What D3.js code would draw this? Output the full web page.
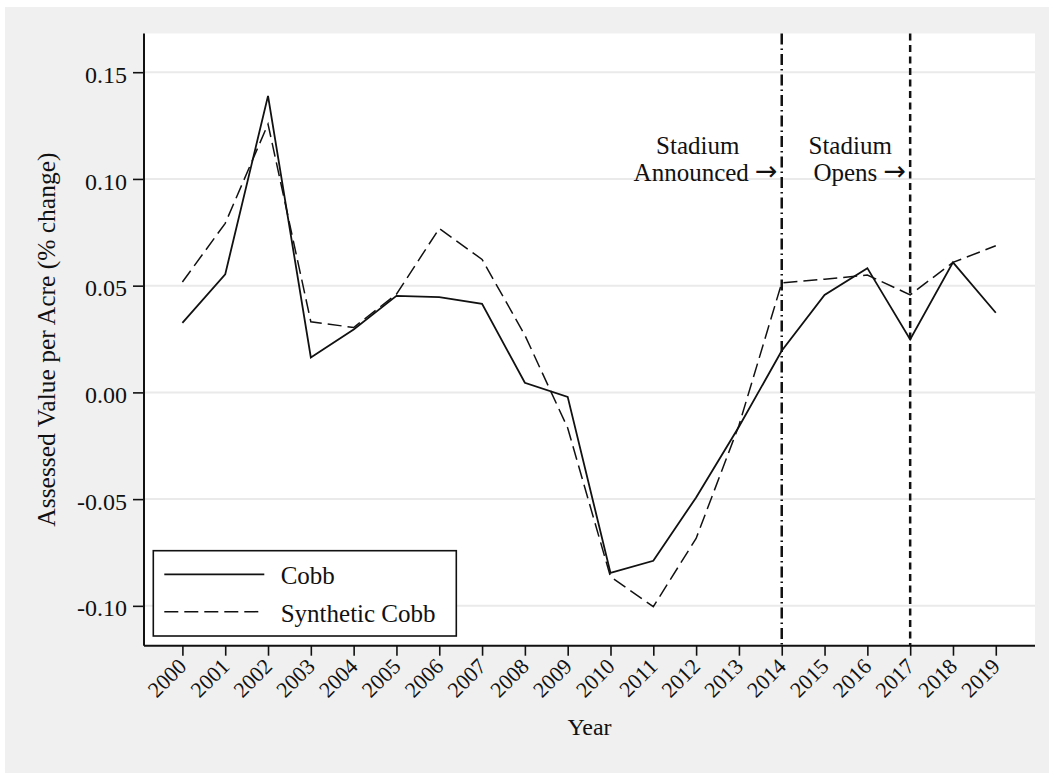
<!DOCTYPE html>
<html>
<head>
<meta charset="utf-8">
<script src="https://cdn.jsdelivr.net/npm/d3@7"></script>
<style>
  html, body { margin: 0; padding: 0; background: #ffffff; }
  svg { display: block; }
  text { font-family: "Liberation Serif", "DejaVu Serif", serif; fill: #111; }
</style>
</head>
<body>
<svg id="chart" width="1049" height="773"></svg>
<script>
// Annual change in assessed value per acre, Cobb County vs. its synthetic control
const years = [2000, 2001, 2002, 2003, 2004, 2005, 2006, 2007, 2008, 2009,
               2010, 2011, 2012, 2013, 2014, 2015, 2016, 2017, 2018, 2019];
const cobb = [0.0326, 0.0553, 0.1389, 0.0164, 0.0295, 0.0452, 0.0446, 0.0415, 0.0045, -0.0021,
              -0.0846, -0.0789, -0.0492, -0.0161, 0.0195, 0.0456, 0.0582, 0.0248, 0.0609, 0.0373];
const syntheticCobb = [0.0517, 0.0792, 0.1257, 0.0331, 0.0304, 0.0460, 0.0768, 0.0623, 0.0268, -0.0167,
                       -0.0864, -0.1004, -0.0684, -0.0155, 0.0513, 0.0530, 0.0550, 0.0457, 0.0609, 0.0687];
const yTicks = [-0.10, -0.05, 0.00, 0.05, 0.10, 0.15];
const yTickLabels = ["-0.10", "-0.05", "0.00", "0.05", "0.10", "0.15"];
const seriesNames = ["Cobb", "Synthetic Cobb"];
const eventYears = [2014, 2017];
const eventLabels = [["Stadium", "Announced"], ["Stadium", "Opens"]];

const svg = d3.select("#chart");
const W = 1049, H = 773;
const plot = { left: 144, right: 1035, top: 33.5, bottom: 645.7 };

const x = d3.scaleLinear().domain([1999.103, 2019.916]).range([plot.left, plot.right]);
const y = d3.scaleLinear().domain([-0.11867, 0.16813]).range([plot.bottom, plot.top]);

// outer panel and plot region
svg.append("rect").attr("x", 5).attr("y", 7).attr("width", W - 5).attr("height", H - 7).attr("fill", "#f0f0f0");
svg.append("rect").attr("x", plot.left).attr("y", plot.top)
  .attr("width", plot.right - plot.left).attr("height", plot.bottom - plot.top).attr("fill", "#ffffff");

// horizontal grid
svg.append("g").selectAll("line").data(yTicks).join("line")
  .attr("x1", plot.left).attr("x2", plot.right)
  .attr("y1", d => y(d)).attr("y2", d => y(d))
  .attr("stroke", "#eaeaea").attr("stroke-width", 2);

// y axis
const yAxis = d3.axisLeft(y).tickValues(yTicks)
  .tickFormat((d, i) => yTickLabels[i]).tickSize(11).tickPadding(6).tickSizeOuter(0);
const gy = svg.append("g").attr("transform", `translate(${plot.left},0)`).call(yAxis);
gy.select(".domain").remove();
gy.selectAll(".tick line").attr("stroke", "#111").attr("stroke-width", 1.6);
gy.selectAll(".tick text").attr("font-size", 24).attr("font-family", "Liberation Serif")
  .attr("fill", "#111").attr("dy", "0.42em");
svg.append("line").attr("x1", plot.left).attr("x2", plot.left)
  .attr("y1", plot.top).attr("y2", plot.bottom).attr("stroke", "#111").attr("stroke-width", 2);

// x axis
const xAxis = d3.axisBottom(x).tickValues(years).tickFormat(d3.format("d"))
  .tickSize(10).tickSizeOuter(0);
const gx = svg.append("g").attr("transform", `translate(0,${plot.bottom})`).call(xAxis);
gx.select(".domain").remove();
gx.selectAll(".tick line").attr("stroke", "#111").attr("stroke-width", 1.6);
gx.selectAll(".tick text")
  .attr("font-size", 22).attr("font-family", "Liberation Serif").attr("fill", "#111")
  .attr("text-anchor", "end").attr("y", 0).attr("dy", 0)
  .attr("transform", "translate(5,22) rotate(-45)");
svg.append("line").attr("x1", plot.left).attr("x2", plot.right)
  .attr("y1", plot.bottom).attr("y2", plot.bottom).attr("stroke", "#111").attr("stroke-width", 2);

// axis titles
svg.append("text").attr("transform", `translate(55,${(plot.top + plot.bottom) / 2}) rotate(-90)`)
  .attr("text-anchor", "middle").attr("font-size", 25.5).text("Assessed Value per Acre (% change)");
svg.append("text").attr("x", (plot.left + plot.right) / 2).attr("y", 735)
  .attr("text-anchor", "middle").attr("font-size", 24).text("Year");

// event markers
const eventDash = ["11,4,1.5,4", "7,4.5"];
svg.append("g").selectAll("line").data(eventYears).join("line")
  .attr("x1", d => x(d)).attr("x2", d => x(d))
  .attr("y1", plot.top).attr("y2", plot.bottom)
  .attr("stroke", "#111").attr("stroke-width", 2.5)
  .attr("stroke-dasharray", (d, i) => eventDash[i]);

const evG = svg.append("g").selectAll("g").data(eventYears).join("g");
evG.append("text").attr("x", (d, i) => i === 0 ? x(d) - 84 : x(d) - 60).attr("y", 154)
  .attr("text-anchor", "middle").attr("font-size", 25).text((d, i) => eventLabels[i][0]);
const second = evG.append("text").attr("x", d => x(d) - 4).attr("y", 181)
  .attr("text-anchor", "end").attr("font-size", 25);
second.append("tspan").text((d, i) => eventLabels[i][1] + " ");
second.append("tspan").attr("font-family", "DejaVu Sans").attr("font-size", 27)
  .attr("dy", -1).text("\u2192");

// series lines
const line = d3.line().x((d, i) => x(years[i])).y(d => y(d));
svg.append("path").datum(cobb).attr("d", line)
  .attr("fill", "none").attr("stroke", "#111").attr("stroke-width", 1.8).attr("stroke-linejoin", "miter");
svg.append("path").datum(syntheticCobb).attr("d", line)
  .attr("fill", "none").attr("stroke", "#111").attr("stroke-width", 1.5)
  .attr("stroke-dasharray", "14,6").attr("stroke-linejoin", "miter");

// legend
const lg = svg.append("g");
lg.append("rect").attr("x", 153.3).attr("y", 550.7).attr("width", 303).attr("height", 85.3)
  .attr("fill", "#ffffff").attr("stroke", "#111").attr("stroke-width", 1.6);
const legendRows = [{ dash: null, w: 1.8 }, { dash: "14,6", w: 1.5 }];
legendRows.forEach((r, i) => {
  const ly = 574.3 + i * 37.4;
  lg.append("line").attr("x1", 164.3).attr("x2", 264.3).attr("y1", ly).attr("y2", ly)
    .attr("stroke", "#111").attr("stroke-width", r.w)
    .attr("stroke-dasharray", r.dash);
  lg.append("text").attr("x", 280.7).attr("y", ly + 10).attr("font-size", 25).text(seriesNames[i]);
});
</script>
</body>
</html>
